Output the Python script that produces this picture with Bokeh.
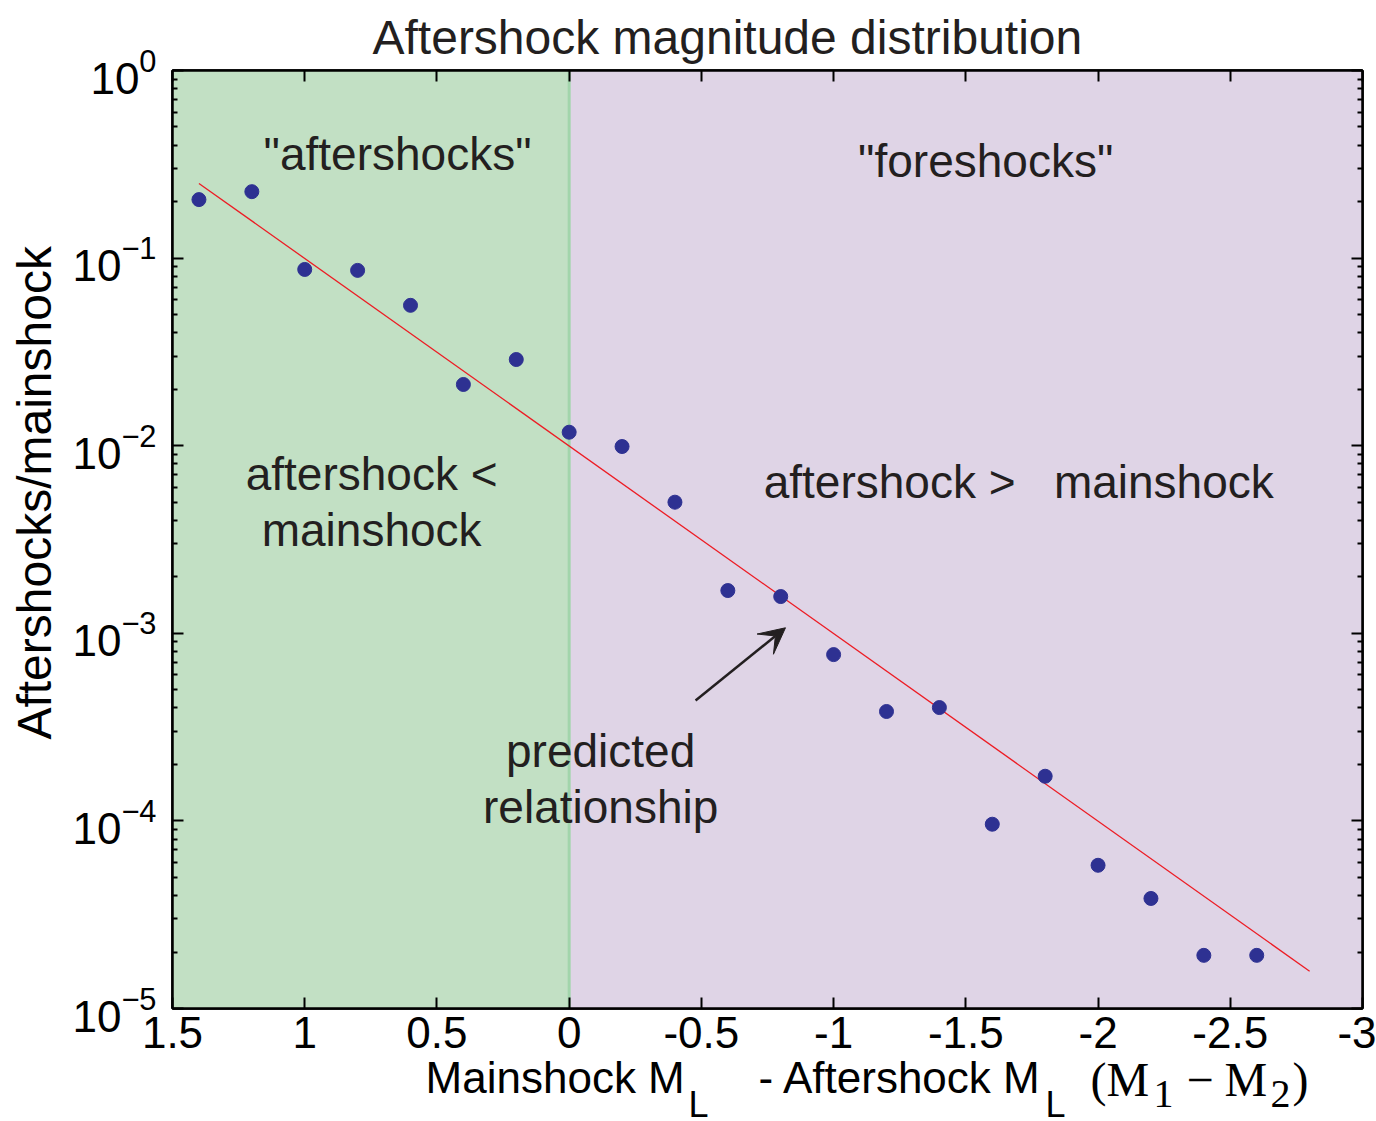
from bokeh.plotting import figure
from bokeh.layouts import column
from bokeh.models import (Range1d, LogAxis, LinearAxis, FixedTicker, Label,
                          ColumnDataSource, Arrow, VeeHead)
from bokeh.core.properties import value
from bokeh.embed import file_html
from bokeh.resources import INLINE

# Mainshock M_L minus aftershock M_L (bin centres)
mag_diff = [1.4, 1.2, 1.0, 0.8, 0.6, 0.4, 0.2, 0.0, -0.2, -0.4, -0.6,
            -0.8, -1.0, -1.2, -1.4, -1.6, -1.8, -2.0, -2.2, -2.4, -2.6]
# Aftershocks per mainshock in each bin
rate = [0.205, 0.226, 0.087, 0.086, 0.056, 0.0212, 0.0288, 0.0118, 0.0099,
        0.0050, 0.00169, 0.00157, 0.00077, 0.000383, 0.000402, 9.6e-5,
        1.73e-4, 5.8e-5, 3.86e-5, 1.92e-5, 1.92e-5]

# Predicted relationship (one decade per magnitude unit)
fit_x = [1.4, -2.8]
fit_y = [0.25, 1.58e-5]

# Shaded regimes: aftershock smaller / larger than mainshock
region_left = [1.5, 0.0]
region_right = [0.0, -3.0]
region_colors = ["#c2e0c4", "#dfd4e6"]

x_ticks = [1.5, 1.0, 0.5, 0.0, -0.5, -1.0, -1.5, -2.0, -2.5, -3.0]
x_tick_labels = ["1.5", "1", "0.5", "0", "-0.5", "-1", "-1.5", "-2", "-2.5", "-3"]
y_decades = [1.0, 1e-1, 1e-2, 1e-3, 1e-4, 1e-5]
y_minor = [m * d for d in y_decades[1:] for m in range(2, 10)]

SANS = "Liberation Sans"
SERIF = "Liberation Serif"
INK = "#231f20"
NBSP = "\u00a0"

p = figure(frame_width=1190, frame_height=938,
           x_range=Range1d(1.5, -3.0), y_range=Range1d(1e-5, 1.0),
           y_axis_type="log", output_backend="svg", toolbar_location=None,
           min_border_left=172, min_border_right=14,
           min_border_top=70, min_border_bottom=48,
           background_fill_color="white", border_fill_color="white")
p.grid.visible = False
p.outline_line_color = "black"
p.outline_line_width = 2.5

p.title.text = "Aftershock magnitude distribution"
p.title.text_font = SANS
p.title.text_font_size = "48px"
p.title.text_font_style = "normal"
p.title.text_color = INK
p.title.align = "left"
p.title.offset = 200
p.title.standoff = 13

src = ColumnDataSource(dict(left=region_left, right=region_right, color=region_colors))
p.quad(left="left", right="right", bottom=y_decades[-1], top=y_decades[0],
       fill_color="color", line_color=None, source=src)
# boundary between the two regimes
p.segment(x0=region_right[0], y0=y_decades[-1], x1=region_right[0], y1=y_decades[0],
          line_color="#a2d5ab", line_width=3)

p.line(fit_x, fit_y, line_color="#ed1c24", line_width=1.3)
p.scatter(mag_diff, rate, size=14, fill_color="#2e3192", line_color="#2e3192")

# ---- axes ----
x_ticker = FixedTicker(ticks=x_ticks, minor_ticks=[])
y_ticker = FixedTicker(ticks=y_decades, minor_ticks=y_minor)


def style_axis(ax, show_labels=True):
    ax.axis_line_color = "black"
    ax.axis_line_width = 2.5
    ax.major_tick_in = 11
    ax.major_tick_out = 0
    ax.minor_tick_in = 5
    ax.minor_tick_out = 0
    ax.major_tick_line_color = "black"
    ax.major_tick_line_width = 2
    ax.minor_tick_line_color = "black"
    ax.minor_tick_line_width = 2
    if show_labels:
        ax.major_label_text_font = SANS
        ax.major_label_text_font_size = "44px"
        ax.major_label_text_color = "black"
    else:
        ax.major_label_text_font_size = "1px"
        ax.major_label_text_color = None
        ax.major_label_standoff = 0


bottom = p.xaxis[0]
bottom.ticker = x_ticker
bottom.major_label_overrides = dict(zip(x_ticks, x_tick_labels))
style_axis(bottom)
bottom.major_label_standoff = 8

left = p.yaxis[0]
left.ticker = y_ticker
style_axis(left)
left.major_label_standoff = 16
# leading no-break spaces lift the label slightly above the frame centre
left.axis_label = NBSP * 7 + "Aftershocks/mainshock"
left.axis_label_text_font = SANS
left.axis_label_text_font_size = "48px"
left.axis_label_text_font_style = "normal"
left.axis_label_text_color = "black"
left.axis_label_standoff = 8

top = LinearAxis(ticker=x_ticker)
style_axis(top, show_labels=False)
p.add_layout(top, "above")
right = LogAxis(ticker=y_ticker)
style_axis(right, show_labels=False)
p.add_layout(right, "right")


def note(x, y, text, size="46px"):
    p.add_layout(Label(x=x, y=y, text=text, text_align="center", text_baseline="middle",
                       text_font=SANS, text_font_size=size, text_color=INK))


# regime annotations
note(0.649, 0.361, "\"aftershocks\"")
note(-1.575, 0.331, "\"foreshocks\"")
note(0.747, 7.1e-3, "aftershock <")
note(0.747, 3.57e-3, "mainshock")
note(-1.70, 6.44e-3, "aftershock >" + NBSP * 2 + " mainshock")
note(-0.119, 2.37e-4, "predicted")
note(-0.119, 1.18e-4, "relationship")

p.add_layout(Arrow(x_start=-0.478, y_start=4.38e-4, x_end=-0.818, y_end=1.07e-3,
                   line_color=INK, line_width=2.5,
                   end=VeeHead(size=26, fill_color=INK, line_color=INK)))

# ---- x-axis title strip (sans text with subscripts, then serif (M1 - M2)) ----
strip_h = 65
q = figure(frame_width=1190, frame_height=strip_h, title=None,
           x_range=p.x_range, y_range=Range1d(0, strip_h),
           output_backend="svg", toolbar_location=None,
           x_axis_location=None, y_axis_location=None,
           min_border_left=172, min_border_right=14,
           min_border_top=0, min_border_bottom=0,
           background_fill_color="white", border_fill_color="white")
q.grid.visible = False
q.outline_line_color = None

# text anchor heights within the strip (pixels up from its bottom edge)
sans_base, sans_sub, serif_base, serif_sub = 44, 17, 42, 28
label_parts = [
    # x, y, text, font, size
    (0.543, sans_base, "Mainshock M", SANS, "44px"),
    (-0.451, sans_sub, "L", SANS, "36px"),
    (-0.716, sans_base, "- Aftershock M", SANS, "44px"),
    (-1.801, sans_sub, "L", SANS, "36px"),
    (-1.9715, serif_base, "(M", SERIF, "48px"),
    (-2.2097, serif_sub, "1", SERIF, "40px"),
    (-2.3345, serif_base, "\u2212", SERIF, "48px"),
    (-2.4782, serif_base, "M", SERIF, "48px"),
    (-2.6522, serif_sub, "2", SERIF, "40px"),
    (-2.7354, serif_base, ")", SERIF, "48px"),
]
for x, y, t, font, size in label_parts:
    q.text(x=[x], y=[y], text=[t], text_font=value(font), text_font_size=value(size),
           text_align="left", text_baseline="alphabetic", text_color="black")

layout = column(p, q, spacing=0)
open("out.html", "w").write(file_html(layout, INLINE))
